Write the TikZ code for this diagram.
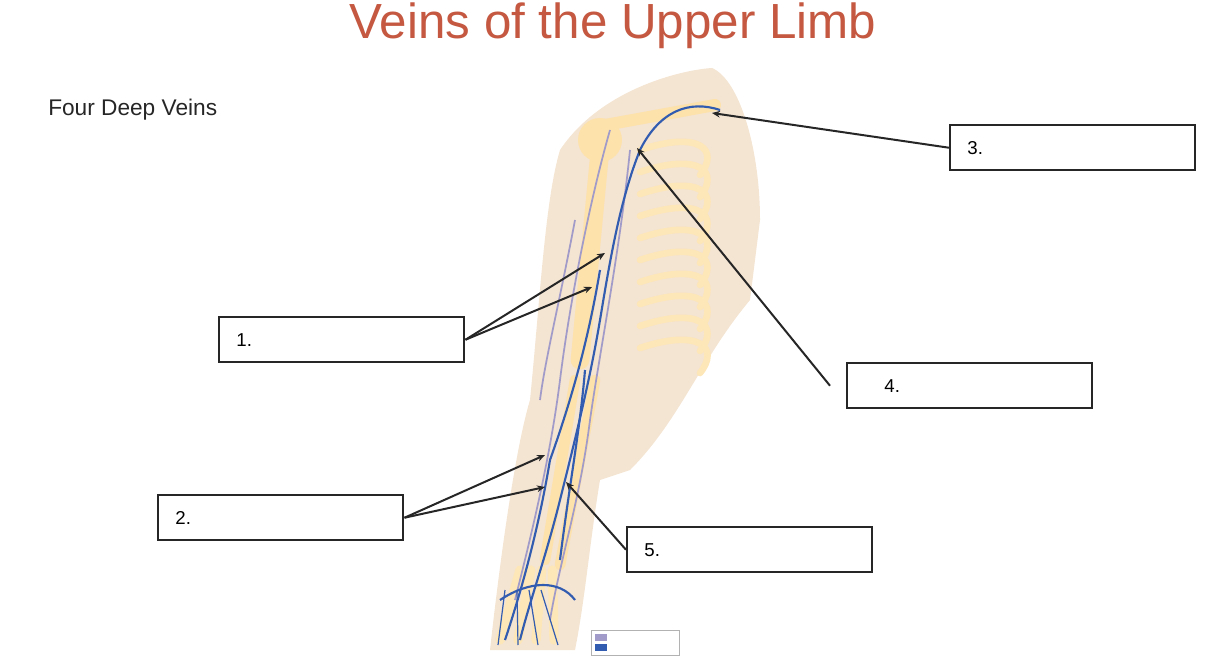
\documentclass[tikz,border=0pt]{standalone}
\usepackage{fontspec}
\setmainfont{Liberation Sans}
\usetikzlibrary{arrows.meta}
\begin{document}
\begin{tikzpicture}[x=0.75pt,y=-0.75pt,
 lbl/.style={draw=black!85,line width=1.6pt,text width=184pt,minimum height=34pt,anchor=north west,inner sep=0pt,align=left,font=\fontsize{14}{16}\selectfont},
 ptr/.style={line width=1.5pt,draw=black!85,-{Stealth[length=6pt,width=5pt]}},
 vein/.style={draw=veinc,line width=1.6pt},
 lvein/.style={draw=lveinc,line width=1.3pt},
 bonec/.style={draw=yellow!30!orange!30,line cap=round}]
\useasboundingbox (0,0) rectangle (1232,656);
\definecolor{titlec}{RGB}{196,88,64}
\definecolor{skin}{RGB}{244,228,210}
\definecolor{veinc}{RGB}{50,92,175}
\definecolor{lveinc}{RGB}{160,155,200}
% torso & arm skin
\fill[skin] (560,150) .. controls (600,90) and (680,70) .. (712,68) .. controls (740,80) and (760,150) .. (760,220) -- (750,300) .. controls (700,360) and (680,420) .. (630,470) -- (600,480) .. controls (590,540) and (585,600) .. (575,650) -- (490,650) .. controls (500,560) and (515,450) .. (530,400) .. controls (540,300) and (545,200) .. (560,150) -- cycle;
% ribs
\foreach \i in {0,...,9}{
 \draw[bonec,line width=5pt,draw=yellow!30!orange!25] (640,150+\i*22) .. controls (700,130+\i*22) and (720,150+\i*22) .. (700,175+\i*22);}
% clavicle, humerus, forearm bones
\draw[bonec,line width=9pt] (605,125) -- (715,105);
\draw[bonec,line width=14pt] (600,150) -- (580,360);
\draw[bonec,line width=8pt] (575,380) -- (545,560);
\draw[bonec,line width=8pt] (595,380) -- (560,565);
\fill[yellow!30!orange!30] (600,140) circle (22);
\foreach \dx in {0,18,36,54}{\draw[bonec,line width=7pt,draw=yellow!30!orange!25] (520+\dx*0.6,570) -- (500+\dx,640);}
% light veins
\draw[lvein] (610,130) .. controls (590,200) and (570,300) .. (560,380) .. controls (550,460) and (530,540) .. (515,600);
\draw[lvein] (630,150) .. controls (620,250) and (600,350) .. (590,420) .. controls (580,500) and (560,560) .. (550,620);
\draw[lvein] (575,220) .. controls (560,300) and (545,360) .. (540,400);
% deep veins
\draw[vein] (720,110) .. controls (690,100) and (660,110) .. (640,150) .. controls (620,200) and (610,260) .. (600,320) .. controls (590,380) and (575,440) .. (560,500) .. controls (545,560) and (530,600) .. (520,640);
\draw[vein] (600,270) .. controls (590,330) and (575,390) .. (550,460) .. controls (540,520) and (525,580) .. (505,640);
\draw[vein] (585,370) .. controls (580,430) and (570,480) .. (560,560);
\draw[vein] (500,600) .. controls (530,580) and (560,580) .. (575,600);
\foreach \dx in {0,20,40,60}{\draw[vein,line width=0.9pt] (505+\dx*0.6,590) -- (498+\dx,645);}
% title
\node[text=titlec,font=\fontsize{37}{42}\selectfont] (title) at (613,26) {Veins of the Upper Limb};
\node[anchor=west,font=\fontsize{17}{20}\selectfont,text=black!85,inner sep=0pt] (sub) at (48,110) {Four Deep Veins};
% label boxes
\node[lbl] (b1) at (218,316) {\hspace*{13pt}1.};
\node[lbl] (b2) at (157,494) {\hspace*{13pt}2.};
\node[lbl] (b3) at (949,124) {\hspace*{13pt}3.};
\node[lbl] (b4) at (846,362) {\hspace*{28pt}4.};
\node[lbl] (b5) at (626,526) {\hspace*{13pt}5.};
\coordinate (t1a) at (605,253); \coordinate (t1b) at (592,287);
\coordinate (t2a) at (545,455); \coordinate (t2b) at (545,487);
\coordinate (t3) at (712,113); \coordinate (t4) at (637,148); \coordinate (t5) at (566,482);
\draw[ptr] (b1.east) -- (t1a); \draw[ptr] (b1.east) -- (t1b);
\draw[ptr] (b2.east) -- (t2a); \draw[ptr] (b2.east) -- (t2b);
\draw[ptr] (b3.west) -- (t3);
\draw[ptr] ([xshift=-12pt]b4.west) -- (t4);
\draw[ptr] (b5.west) -- (t5);
% legend
\node[draw=gray!60,fill=white,minimum width=66pt,minimum height=19pt,anchor=north west,inner sep=0pt] (leg) at (591,630) {};
\fill[lveinc] (595,634) rectangle (607,641);
\fill[veinc] (595,644) rectangle (607,651);
\end{tikzpicture}
\end{document}
